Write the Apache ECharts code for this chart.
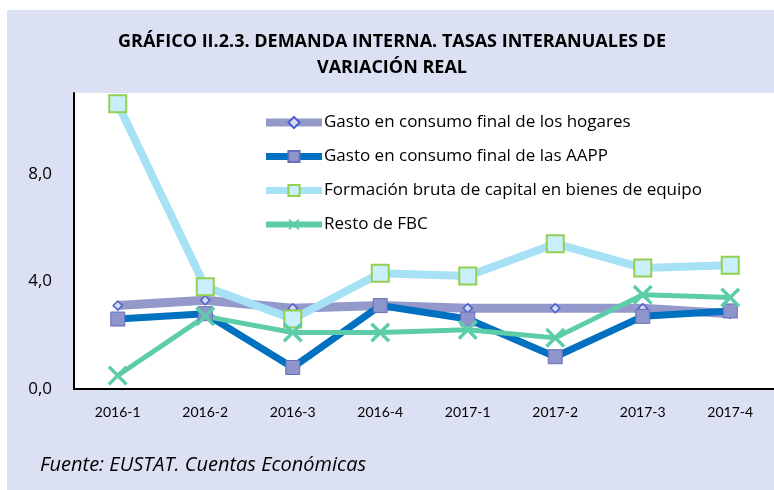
<!DOCTYPE html>
<html>
<head>
<meta charset="utf-8">
<script src="https://cdn.jsdelivr.net/npm/echarts@6/dist/echarts.min.js"></script>
<style>
  html, body { margin: 0; padding: 0; background: #ffffff; }
  #chart { width: 774px; height: 490px; }
</style>
</head>
<body>
<div id="chart"></div>
<script>
var categories = ['2016-1', '2016-2', '2016-3', '2016-4', '2017-1', '2017-2', '2017-3', '2017-4'];
var hogares = [3.1, 3.3, 3.0, 3.1, 3.0, 3.0, 3.0, 2.8];
var aapp = [2.6, 2.8, 0.8, 3.1, 2.6, 1.2, 2.7, 2.9];
var equipo = [10.6, 3.8, 2.6, 4.3, 4.2, 5.4, 4.5, 4.6];
var restoFbc = [0.5, 2.7, 2.1, 2.1, 2.2, 1.9, 3.5, 3.4];
var yTicks = [0, 4, 8];

var font = '"Open Sans", Lato, sans-serif';
var xMark = 'path://M0,1.2L1.2,0L5,3.8L8.8,0L10,1.2L6.2,5L10,8.8L8.8,10L5,6.2L1.2,10L0,8.8L3.8,5Z';

var chart = echarts.init(document.getElementById('chart'));
chart.setOption({
  animation: false,
  backgroundColor: '#ffffff',
  graphic: [{
    type: 'rect',
    z: -10,
    shape: { x: 7, y: 10, width: 767, height: 480 },
    style: { fill: '#dce0f3' }
  }, {
    type: 'text',
    left: 40,
    top: 455,
    style: {
      text: 'Fuente: EUSTAT. Cuentas Económicas',
      font: 'italic 20px ' + font,
      fill: '#000000'
    }
  }],
  title: {
    text: 'GRÁFICO II.2.3. DEMANDA INTERNA. TASAS INTERANUALES DE\nVARIACIÓN REAL',
    left: 387,
    textAlign: 'center',
    top: 24,
    textStyle: {
      fontFamily: font,
      fontSize: 18,
      fontWeight: 'bold',
      color: '#000000',
      lineHeight: 26
    }
  },
  legend: {
    orient: 'vertical',
    left: 262,
    top: 114,
    padding: 0,
    itemWidth: 56,
    itemHeight: 14,
    itemGap: 17,
    textStyle: { fontFamily: font, fontSize: 17, color: '#000000', padding: [0, 0, 0, -3] },
    data: [
      { name: 'Gasto en consumo final de los hogares', lineStyle: { width: 8 } },
      { name: 'Gasto en consumo final de las AAPP', lineStyle: { width: 7 } },
      { name: 'Formación bruta de capital en bienes de equipo', lineStyle: { width: 7 } },
      { name: 'Resto de FBC', lineStyle: { width: 6 } }
    ]
  },
  grid: {
    left: 74, right: 0, top: 93, bottom: 101,
    show: true, backgroundColor: '#ffffff', borderWidth: 0
  },
  xAxis: {
    type: 'category',
    data: categories,
    axisLine: { lineStyle: { color: '#000000', width: 2 } },
    axisTick: { show: false },
    axisLabel: { fontFamily: 'Lato, sans-serif', fontSize: 14, color: '#000000', margin: 16 }
  },
  yAxis: {
    type: 'value',
    min: 0, max: 11, interval: 4,
    axisLine: { show: true, lineStyle: { color: '#000000', width: 2 } },
    axisTick: { show: false },
    splitLine: { show: false },
    axisLabel: {
      fontFamily: font, fontSize: 17, color: '#000000', margin: 22,
      formatter: function (v) {
        return yTicks.indexOf(v) >= 0 ? v.toFixed(1).replace('.', ',') : '';
      }
    }
  },
  series: [{
    name: 'Gasto en consumo final de los hogares',
    type: 'line',
    data: hogares,
    symbol: 'diamond',
    symbolSize: 9,
    lineStyle: { color: '#9499cc', width: 9 },
    itemStyle: { color: '#d6d9f2', borderColor: '#4a5ccc', borderWidth: 1.5 }
  }, {
    name: 'Gasto en consumo final de las AAPP',
    type: 'line',
    data: aapp,
    symbol: 'rect',
    symbolSize: 14,
    lineStyle: { color: '#0070c0', width: 7 },
    itemStyle: { color: '#8e94cc', borderColor: '#6670b8', borderWidth: 1 }
  }, {
    name: 'Formación bruta de capital en bienes de equipo',
    type: 'line',
    data: equipo,
    symbol: 'rect',
    symbolSize: 17,
    lineStyle: { color: '#a6e1f6', width: 8 },
    itemStyle: { color: '#c8effb', borderColor: '#92d050', borderWidth: 2 }
  }, {
    name: 'Resto de FBC',
    type: 'line',
    data: restoFbc,
    symbol: xMark,
    symbolSize: 20,
    lineStyle: { color: '#5ccda8', width: 5 },
    itemStyle: { color: '#5ccda8' }
  }]
});
</script>
</body>
</html>
